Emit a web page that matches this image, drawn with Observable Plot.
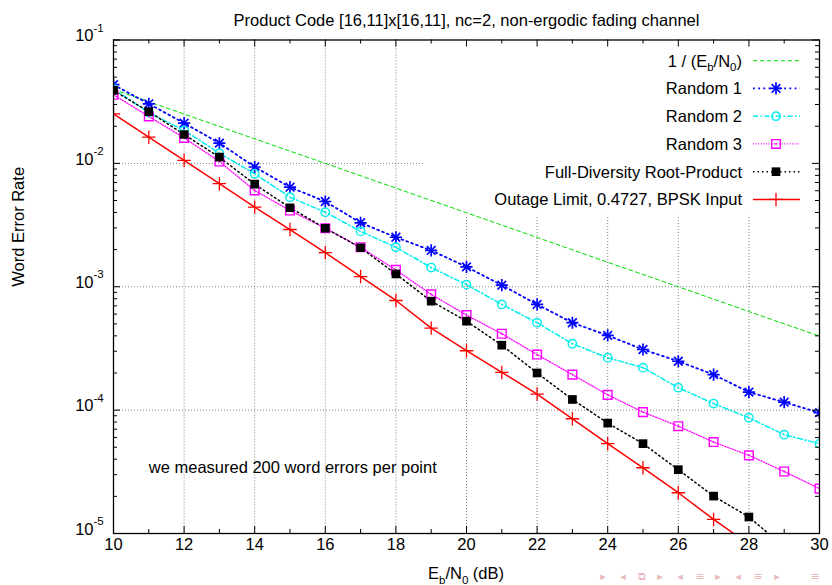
<!DOCTYPE html>
<html><head><meta charset="utf-8">
<script src="https://cdn.jsdelivr.net/npm/d3@7"></script>
<script src="https://cdn.jsdelivr.net/npm/@observablehq/plot@0.6"></script>
<style>html,body{margin:0;padding:0;background:#fff;} #chart svg{display:block;}</style>
</head><body><div id="chart"></div>
<script>
// ---------------- data ----------------
const ebn0 = [10,11,12,13,14,15,16,17,18,19,20,21,22,23,24,25,26,27,28,29,30];
const ebn0Even = [10,12,14,16,18,20,22,24,26,28,30];
const inverseSnr = [0.0398,0.0251,0.0158,0.0100,0.0063,0.00398,0.00251,0.00158,0.00100,0.00063,0.000398];
const random1 = [0.0434,0.0304,0.0212,0.0146,0.00935,0.00641,0.00491,0.00330,0.00252,0.00197,0.00145,0.00103,0.000719,0.000511,0.000403,0.000310,0.000249,0.000194,0.000140,0.000116,0.0000953];
const random2 = [0.0400,0.0258,0.0185,0.0121,0.00824,0.00532,0.00402,0.00281,0.00209,0.00143,0.00104,0.000719,0.000511,0.000345,0.000266,0.000221,0.000152,0.000113,0.0000867,0.0000632,0.0000535];
const random3 = [0.0360,0.0240,0.0161,0.01035,0.00603,0.00415,0.00298,0.00209,0.00137,0.000867,0.000589,0.000416,0.000282,0.000194,0.000133,0.0000964,0.0000741,0.0000551,0.0000430,0.0000318,0.0000231];
const rootProduct = [0.0390,0.0263,0.01715,0.01122,0.00678,0.00437,0.00298,0.00207,0.00127,0.000764,0.000526,0.000336,0.000200,0.000122,0.0000785,0.0000535,0.0000329,0.0000201,0.0000136,0.0000078];
const outage = [0.0252,0.0163,0.01056,0.00684,0.00442,0.00291,0.00189,0.00121,0.000774,0.000462,0.000303,0.000202,0.000135,0.0000851,0.0000535,0.0000341,0.0000214,0.0000130,0.0000082];

const seriesNames = ["1 / (Eb/N0)","Random 1","Random 2","Random 3","Full-Diversity Root-Product","Outage Limit, 0.4727, BPSK Input"];
const xTicks = [10,12,14,16,18,20,22,24,26,28,30];
const xMinorTicks = [11,13,15,17,19,21,23,25,27,29];
const yTicks = [1e-1,1e-2,1e-3,1e-4,1e-5];
const yTickExponents = ["-1","-2","-3","-4","-5"];
const titleText = "Product Code [16,11]x[16,11], nc=2, non-ergodic fading channel";
const yLabel = "Word Error Rate";
const noteText = "we measured 200 word errors per point";
const noteAt = {x: 11, y: 3.4e-5};
const keyLeft = 18.84;     // legend box left edge (dB)
const keyBottom = 0.0038;  // legend box bottom edge (WER)

// ---------------- layout ----------------
const W = 832, H = 585, mL = 113, mR = 13, mT = 39.5, mB = 52;
const pW = W - mL - mR, pH = H - mT - mB;
const FONT = "'Liberation Sans', Arial, Helvetica, sans-serif";

const toRows = (xs, ys) => ys.map((v, i) => ({x: xs[i], y: v}));
const styles = [
  {rows: toRows(ebn0Even, inverseSnr), color: "#00dd00", dash: "4,3", width: 1, symbols: []},
  {rows: toRows(ebn0, random1), color: "#0000ff", dash: "1.8,3.4", width: 1.8, symbols: [{s: "plus", r: 4.0}, {s: "times", r: 4.0}], sw: 1.7},
  {rows: toRows(ebn0, random2), color: "#00eeee", dash: "5,2.5,1.5,2.5", width: 1.5, symbols: [{s: "circle", r: 4.2}], sw: 1.4},
  {rows: toRows(ebn0, random3), color: "#ff00ff", dash: "1,1.6", width: 1.3, symbols: [{s: "square", r: 4.9}], sw: 1.4, centerDot: true},
  {rows: toRows(ebn0, rootProduct), color: "#000000", dash: "1.5,3", width: 1.5, symbols: [{s: "square", r: 4.9, fill: true}], sw: 0},
  {rows: toRows(ebn0, outage), color: "#ff0000", dash: null, width: 1.5, symbols: [{s: "plus", r: 4.4}], sw: 1.3}
];

const minorY = [];
for (const e of [-5,-4,-3,-2]) for (let k = 2; k <= 9; k++) minorY.push(k * Math.pow(10, e));

const gridStyle = {stroke: "#000", strokeOpacity: 0.55, strokeDasharray: "1,2", strokeWidth: 0.9};

const marks = [
  Plot.ruleX([12,14,16,18], {x: d => d, ...gridStyle}),
  Plot.ruleX([20,22,24,26,28], {x: d => d, y1: 1e-5, y2: keyBottom, ...gridStyle}),
  Plot.ruleY([1e-3,1e-4], {y: d => d, ...gridStyle}),
  Plot.ruleY([1e-2], {y: d => d, x1: 10, x2: keyLeft, ...gridStyle}),
];
for (const s of styles) {
  marks.push(Plot.line(s.rows, {x: "x", y: "y", stroke: s.color, strokeWidth: s.width, strokeDasharray: s.dash, clip: true}));
}
for (const s of styles) {
  for (const sym of s.symbols) {
    marks.push(Plot.dot(s.rows, {x: "x", y: "y", symbol: sym.s, r: sym.r,
      stroke: sym.fill ? "none" : s.color, fill: sym.fill ? s.color : "none", strokeWidth: s.sw, clip: true}));
  }
  if (s.centerDot) marks.push(Plot.dot(s.rows, {x: "x", y: "y", r: 0.9, fill: s.color, clip: true}));
}
marks.push(
  Plot.frame({stroke: "#000", strokeWidth: 1.3}),
  Plot.tickY(yTicks, {y: d => d, insetRight: pW - 7, stroke: "#000"}),
  Plot.tickY(yTicks, {y: d => d, insetLeft: pW - 7, stroke: "#000"}),
  Plot.tickY(minorY, {y: d => d, insetRight: pW - 4, stroke: "#000"}),
  Plot.tickY(minorY, {y: d => d, insetLeft: pW - 4, stroke: "#000"}),
  Plot.tickX(xTicks, {x: d => d, insetTop: pH - 7, stroke: "#000"}),
  Plot.tickX(xTicks, {x: d => d, insetBottom: pH - 7, stroke: "#000"}),
  Plot.tickX(xMinorTicks, {x: d => d, insetTop: pH - 4, stroke: "#000"}),
  Plot.tickX(xMinorTicks, {x: d => d, insetBottom: pH - 4, stroke: "#000"}),
  Plot.text(yTicks, {y: d => d, text: () => "10", frameAnchor: "left", dx: -20, dy: -4, textAnchor: "end", fontSize: 16.5, fill: "#000"}),
  Plot.text(yTicks, {y: d => d, text: (d, i) => yTickExponents[i], frameAnchor: "left", dx: -20, dy: -12, textAnchor: "start", fontSize: 11.5, fill: "#000"}),
  Plot.text(xTicks, {x: d => d, text: d => String(d), frameAnchor: "bottom", dy: 16, fontSize: 16.5, fill: "#000"}),
  Plot.text([titleText], {text: d => d, frameAnchor: "top", dy: -25.5, fontSize: 16.5, fill: "#000"}),
  Plot.text([yLabel], {text: d => d, frameAnchor: "left", dx: -95, rotate: -90, fontSize: 16.5, fill: "#000"}),
  Plot.text([noteAt], {x: "x", y: "y", text: () => noteText, textAnchor: "start", fontSize: 16.5, fill: "#000"})
);

const svg = Plot.plot({
  width: W, height: H,
  marginLeft: mL, marginRight: mR, marginTop: mT, marginBottom: mB,
  x: {domain: [10, 30], axis: null},
  y: {type: "log", domain: [1e-5, 1e-1], axis: null},
  style: {fontFamily: FONT, fontSize: "16.5px", background: "#fff", color: "#000", overflow: "visible"},
  marks
});
document.getElementById("chart").appendChild(svg);

// ---------------- x label with subscripts ----------------
const S = d3.select(svg);
function richText(g, parts, attrs) {
  const t = g.append("text").attr("font-family", FONT).attr("font-size", 16.5).attr("fill", "#000");
  for (const k in attrs) t.attr(k, attrs[k]);
  let shift = 0;
  for (const p of parts) {
    const sub = typeof p === "object";
    const ts = t.append("tspan").text(sub ? p.sub : p);
    const target = sub ? 4.5 : 0;
    if (target !== shift) { ts.attr("dy", target - shift); shift = target; }
    if (sub) ts.attr("font-size", 11.5);
  }
  return t;
}
richText(S, ["E", {sub: "b"}, "/N", {sub: "0"}, " (dB)"], {x: mL + pW / 2, y: 579, "text-anchor": "middle"});

// ---------------- legend ----------------
const legendParts = [
  ["1 / (E", {sub: "b"}, "/N", {sub: "0"}, ")"],
  [seriesNames[1]], [seriesNames[2]], [seriesNames[3]], [seriesNames[4]], [seriesNames[5]]
];
const lg = S.append("g");
const rowY0 = 60.7, rowStep = 27.75, textRight = 742, s0 = 753, s1 = 800, sm = 776;
styles.forEach((s, i) => {
  const y = rowY0 + i * rowStep;
  richText(lg, legendParts[i], {x: textRight, y: y + 5.8, "text-anchor": "end"});
  lg.append("line").attr("x1", s0).attr("x2", s1).attr("y1", y).attr("y2", y)
    .attr("stroke", s.color).attr("stroke-width", s.width).attr("stroke-dasharray", s.dash);
  const map = {plus: d3.symbolPlus, times: d3.symbolTimes, circle: d3.symbolCircle, square: d3.symbolSquare};
  for (const sym of s.symbols) {
    lg.append("path").attr("transform", `translate(${sm},${y})`)
      .attr("d", d3.symbol(map[sym.s], sym.r * sym.r * Math.PI)())
      .attr("fill", sym.fill ? s.color : "none").attr("stroke", sym.fill ? "none" : s.color)
      .attr("stroke-width", s.sw);
  }
  if (s.centerDot) lg.append("circle").attr("cx", sm).attr("cy", y).attr("r", 0.9).attr("fill", s.color);
});

// ---------------- beamer navigation symbols ----------------
const nav = ["▸","◂","⧉","▸","◂","≡","▸","◂","≡","▸","≡"];
const navX = [603,623,642,660,680,700,718,738,758,777,815];
nav.forEach((c, i) => {
  S.append("text").attr("x", navX[i]).attr("y", 580).attr("text-anchor", "middle")
    .attr("font-family", "DejaVu Sans").attr("font-size", 11).attr("fill", "#eab9bd").text(c);
});
</script></body></html>
